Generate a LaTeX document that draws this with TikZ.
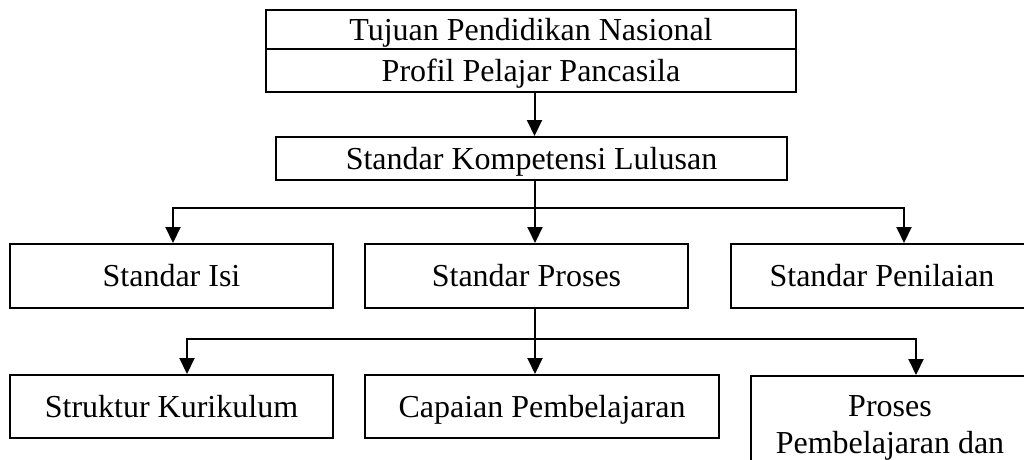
\documentclass[tikz,border=0pt]{standalone}
\usepackage{fontspec}
\setmainfont{Liberation Serif}
\usetikzlibrary{arrows.meta}

\tikzstyle{box}=[draw,black,line width=2pt,rectangle,inner sep=0pt,align=center,font=\fontsize{32}{37}\selectfont]
\tikzstyle{line}=[text height=21pt,text depth=0pt]
\tikzstyle{edge}=[line width=2pt,-{Triangle[length=16pt,width=15pt]}]

\begin{document}
\begin{tikzpicture}[x=1pt,y=-1pt]
    \useasboundingbox (0,0) rectangle (1024,459);
    \clip (0,0) rectangle (1024,459);
    \node (tujuan)[box,line,minimum width=530pt,minimum height=39pt] at (531,29.5) {Tujuan Pendidikan Nasional};
    \node (profil)[box,line,minimum width=530pt,minimum height=43pt] at (531,70.5) {Profil Pelajar Pancasila};
    \node (skl)[box,line,minimum width=511pt,minimum height=43pt] at (531.5,158.5) {Standar Kompetensi Lulusan};
    \node (isi)[box,line,minimum width=323pt,minimum height=64pt] at (171.5,276) {Standar Isi};
    \node (proses)[box,line,minimum width=323pt,minimum height=64pt] at (526.5,276) {Standar Proses};
    \node (penilaian)[box,line,minimum width=302pt,minimum height=64pt] at (882,276) {Standar Penilaian};
    \node (struktur)[box,line,minimum width=323pt,minimum height=63pt] at (171.5,406.5) {Struktur Kurikulum};
    \node (capaian)[box,line,minimum width=354pt,minimum height=63pt] at (542,406.5) {Capaian Pembelajaran};
    \node (ppa)[box,anchor=north,minimum width=278pt,minimum height=103pt] at (890,375) {Proses\\Pembelajaran dan};
    \coordinate (j1) at (535,208);
    \coordinate (j2) at (535,339);
    \draw[edge] ([xshift=3.5pt]profil.south) -- ([xshift=3.5pt]profil.south |- skl.north);
    \draw[line width=2pt] (skl.south -| j1) -- (j1);
    \draw[edge] (j1) -- (j1 |- proses.north);
    \draw[edge] (j1) -| ([xshift=1.5pt]isi.north);
    \draw[edge] (j1) -| ([xshift=22pt]penilaian.north);
    \draw[line width=2pt] (proses.south -| j2) -- (j2);
    \draw[edge] (j2) -- (j2 |- capaian.north);
    \draw[edge] (j2) -| ([xshift=15.5pt]struktur.north);
    \draw[edge] (j2) -| ([xshift=26pt]ppa.north);
\end{tikzpicture}
\end{document}
